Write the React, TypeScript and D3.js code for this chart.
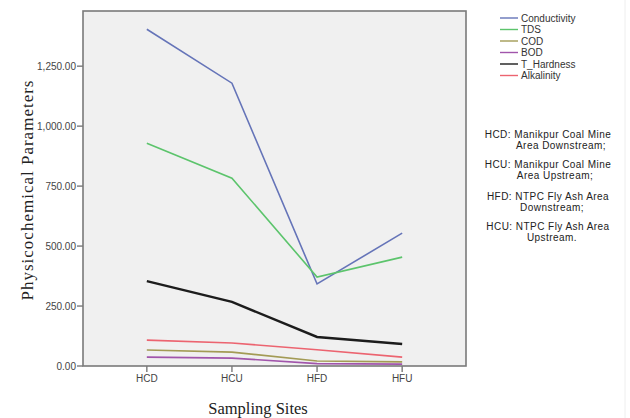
import * as d3 from "d3";

const sites = ["HCD", "HCU", "HFD", "HFU"];
const conductivity = [1404, 1179, 342, 554];
const tds = [929, 783, 371, 454];
const cod = [67, 58, 21, 17];
const bod = [37, 33, 10, 8];
const hardness = [354, 267, 121, 92];
const alkalinity = [108, 96, 68, 37];
const yTicks = [0, 250, 500, 750, 1000, 1250];

const series = [
  { name: "Conductivity", values: conductivity, color: "#6574b8", width: 1.6 },
  { name: "TDS", values: tds, color: "#5cc46c", width: 1.6 },
  { name: "COD", values: cod, color: "#a39b55", width: 1.6 },
  { name: "BOD", values: bod, color: "#a155ab", width: 1.6 },
  { name: "T_Hardness", values: hardness, color: "#1c1c1c", width: 2.4 },
  { name: "Alkalinity", values: alkalinity, color: "#ec6470", width: 1.6 },
];

const notes = [
  ["HCD: Manikpur Coal Mine", 548, 138],
  ["Area Downstream;", 561, 149],
  ["HCU: Manikpur Coal Mine", 548, 168],
  ["Area Upstream;", 555, 179],
  ["HFD: NTPC Fly Ash Area", 548, 200],
  ["Downstream;", 552, 211],
  ["HCU: NTPC Fly Ash Area", 548, 230],
  ["Upstream.", 552, 241],
];

const W = 630;
const H = 418;
const plot = { left: 83, right: 466, top: 11, bottom: 366 };

export default function App() {
  const x = d3.scalePoint().domain(sites).range([plot.left, plot.right]).padding(0.75);
  const y = d3.scaleLinear().domain([0, 1480]).range([plot.bottom, plot.top]);
  const fmt = d3.format(",.2f");

  const line = d3
    .line<number>()
    .x((_, i) => x(sites[i]) as number)
    .y((d) => y(d));

  const sans = "Arial, 'Liberation Sans', sans-serif";
  const serif = "'Times New Roman', 'Liberation Serif', serif";

  return (
    <svg
      width={W}
      height={H}
      style={{ position: "absolute", left: 0, top: 0, background: "#fff" }}
    >
      <rect
        x={plot.left}
        y={plot.top}
        width={plot.right - plot.left}
        height={plot.bottom - plot.top}
        fill="#f0f0f0"
      />

      {series.map((s) => (
        <path
          key={s.name}
          d={line(s.values) || ""}
          fill="none"
          stroke={s.color}
          strokeWidth={s.width}
        />
      ))}

      <rect
        x={plot.left}
        y={plot.top}
        width={plot.right - plot.left}
        height={plot.bottom - plot.top}
        fill="none"
        stroke="#7a7a7a"
        strokeWidth={1.6}
      />

      {/* y axis */}
      {yTicks.map((t) => (
        <g key={t} transform={`translate(${plot.left},${y(t)})`}>
          <line x1={-6} x2={0} stroke="#7a7a7a" strokeWidth={1.4} />
          <text
            x={-7}
            dy="0.35em"
            textAnchor="end"
            fontFamily={sans}
            fontSize={10}
            fill="#444"
          >
            {fmt(t)}
          </text>
        </g>
      ))}

      {/* x axis */}
      {sites.map((s) => (
        <g key={s} transform={`translate(${x(s)},${plot.bottom})`}>
          <line y1={0} y2={6} stroke="#7a7a7a" strokeWidth={1.4} />
          <text
            y={16}
            textAnchor="middle"
            fontFamily={sans}
            fontSize={10}
            fill="#444"
          >
            {s}
          </text>
        </g>
      ))}

      <text
        transform="translate(33,190) rotate(-90)"
        textAnchor="middle"
        fontFamily={serif}
        fontSize={17}
        letterSpacing={1}
        fill="#222"
      >
        Physicochemical Parameters
      </text>
      <text
        x={258}
        y={414}
        textAnchor="middle"
        fontFamily={serif}
        fontSize={16.5}
        fill="#222"
      >
        Sampling Sites
      </text>

      {/* legend */}
      {series.map((s, i) => (
        <g key={s.name} transform={`translate(500,${18 + i * 11.5})`}>
          <line x1={0} x2={18} stroke={s.color} strokeWidth={1.4} />
          <text x={21} dy="0.35em" fontFamily={sans} fontSize={10} fill="#333">
            {s.name}
          </text>
        </g>
      ))}

      {notes.map(([t, nx, ny]) => (
        <text
          key={t as string}
          x={nx as number}
          y={ny as number}
          textAnchor="middle"
          fontFamily={sans}
          fontSize={10}
          letterSpacing={0.45}
          fill="#222"
        >
          {t}
        </text>
      ))}

      <line x1={625} x2={625} y1={0} y2={H} stroke="#eeeeee" />
    </svg>
  );
}
